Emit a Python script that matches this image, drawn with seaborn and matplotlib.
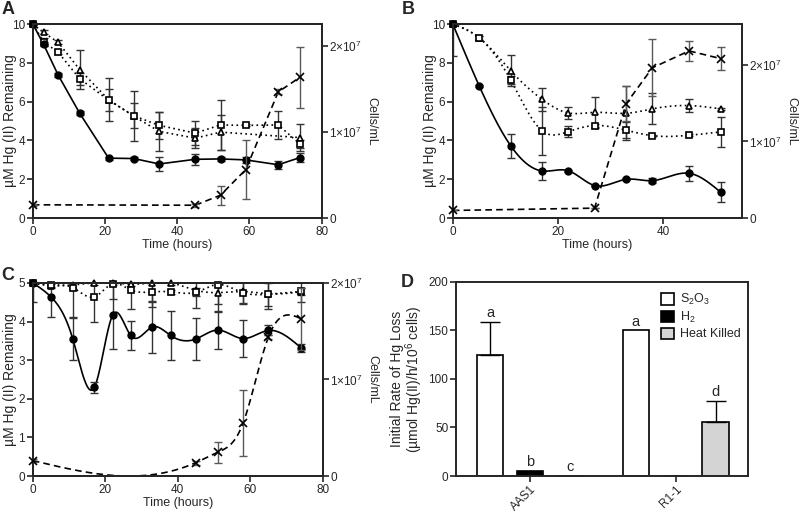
import numpy as np
import pandas as pd
import matplotlib
matplotlib.use('Agg')
import matplotlib.pyplot as plt
import seaborn as sns

# ---- Panel A: AAS1 on S2O3 ----
A_t = [0, 3, 7, 13, 21, 28, 35, 45, 52, 59, 68, 74]
A_circle = [10, 8.95, 7.38, 5.4, 3.09, 3.07, 2.79, 3.03, 3.05, 3.0, 2.75, 3.12]
A_circle_err = [0, 0.1, 0.1, 0.1, 0.08, 0.08, 0.35, 0.27, 0.1, 0.15, 0.2, 0.22]
A_square = [10, 9.08, 8.55, 7.18, 6.08, 5.27, 4.78, 4.38, 4.8, 4.78, 4.8, 3.82]
A_square_err = [0, 0.2, 0.1, 0.3, 0.57, 0.65, 0.7, 0.6, 1.3, 0.05, 0.7, 0.2]
A_tri_t = [0, 3, 7, 13, 21, 28, 35, 45, 52, 74]
A_tri = [10, 9.57, 9.06, 7.65, 6.1, 5.25, 4.47, 4.12, 4.43, 4.15]
A_tri_err = [0, 0.1, 0.1, 1.0, 1.1, 1.3, 1.0, 0.5, 0.9, 0.7]
A_cross_t = [0, 45, 52, 59, 68, 74]
A_cross = [1.55e6, 1.5e6, 2.67e6, 5.66e6, 1.47e7, 1.64e7]
A_cross_err = [1e5, 2e5, 1.1e6, 3.4e6, 3e5, 3.55e6]

# ---- Panel B ----
B_t = [0, 5, 11, 17, 22, 27, 33, 38, 45, 51]
B_circle = [10, 6.83, 3.74, 2.43, 2.44, 1.68, 2.0, 1.93, 2.31, 1.34]
B_circle_err = [1.65, 0.05, 0.62, 0.45, 0.05, 0.05, 0.05, 0.12, 0.4, 0.5]
B_tri = [10, 9.3, 7.6, 6.12, 5.42, 5.45, 5.4, 5.63, 5.8, 5.63]
B_tri_err = [0, 0.1, 0.8, 0.6, 0.3, 0.8, 1.4, 0.8, 0.35, 0.05]
B_square = [10, 9.3, 7.13, 4.5, 4.46, 4.77, 4.53, 4.25, 4.27, 4.44]
B_square_err = [0, 0.1, 0.2, 1.25, 0.3, 0.1, 0.4, 0.05, 0.05, 0.78]
B_cross_t = [0, 27, 33, 38, 45, 51]
B_cross = [1.0e6, 1.3e6, 1.49e7, 1.96e7, 2.18e7, 2.08e7]
B_cross_err = [0, 0, 2.3e6, 3.7e6, 1.3e6, 1.5e6]

# ---- Panel C ----
C_t = [0, 5, 11, 17, 22, 27, 33, 38, 45, 51, 58, 65, 74]
C_circle = [5.0, 4.64, 3.56, 2.3, 4.16, 3.64, 3.86, 3.64, 3.55, 3.78, 3.56, 3.77, 3.32]
C_circle_err = [0.48, 0.53, 0.55, 0.14, 0.87, 0.37, 0.68, 0.63, 0.55, 0.5, 0.47, 0.13, 0.1]
C_tri = [5.0, 4.93, 4.95, 5.0, 5.0, 4.97, 5.0, 5.0, 4.81, 4.75, 4.78, 4.72, 4.77]
C_tri_err = [0, 0.05, 0.1, 0.05, 0.05, 0.05, 0.5, 0.05, 0.46, 0.3, 0.3, 0.4, 0.25]
C_square = [5.0, 4.95, 4.88, 4.64, 4.98, 4.82, 4.77, 4.77, 4.76, 4.96, 4.75, 4.71, 4.78]
C_square_err = [0, 0.05, 0.78, 0.65, 0.4, 0.5, 0.4, 0.05, 0.1, 0.7, 0.3, 0.3, 0.1]
C_cross_t = [0, 45, 51, 58, 65, 74]
C_cross = [1.6e6, 1.39e6, 2.46e6, 5.47e6, 1.44e7, 1.63e7]
C_cross_err = [2e5, 2e5, 1.1e6, 3.4e6, 2e5, 3.2e6]

# ---- Panel D ----
strains = ['AAS1', 'R1-1']
treatments = ['S$_2$O$_3$', 'H$_2$', 'Heat Killed']
rate_AAS1 = [125, 5.5, 0]
rate_R11 = [150, 0, 56]
err_AAS1 = [34, 0, 0]
err_R11 = [0, 0, 21]
letters_AAS1 = ['a', 'b', 'c']
letters_R11 = ['a', '', 'd']
bar_colors = ['white', 'black', '#d4d4d4']

sns.set_style('ticks')
plt.rcParams['font.family'] = ['Liberation Sans', 'DejaVu Sans']
plt.rcParams['mathtext.fontset'] = 'custom'
plt.rcParams['mathtext.rm'] = 'Liberation Sans'
plt.rcParams['mathtext.it'] = 'Liberation Sans:italic'
plt.rcParams['axes.linewidth'] = 1.4

TICK_FS = 8.5
LABEL_FS = 9
VLABEL_FS = 10


def natural_spline(x, y, n=300):
    """Natural cubic spline through the points, for drawing smooth curves."""
    x = np.asarray(x, float)
    y = np.asarray(y, float)
    k = len(x)
    h = np.diff(x)
    A = np.zeros((k, k))
    b = np.zeros(k)
    A[0, 0] = A[-1, -1] = 1
    for i in range(1, k - 1):
        A[i, i - 1] = h[i - 1]
        A[i, i] = 2 * (h[i - 1] + h[i])
        A[i, i + 1] = h[i]
        b[i] = 3 * ((y[i + 1] - y[i]) / h[i] - (y[i] - y[i - 1]) / h[i - 1])
    c = np.linalg.solve(A, b)
    xs = np.linspace(x[0], x[-1], n)
    idx = np.clip(np.searchsorted(x, xs) - 1, 0, k - 2)
    dx = xs - x[idx]
    bb = (y[1:] - y[:-1]) / h - h * (2 * c[:-1] + c[1:]) / 3
    d = (c[1:] - c[:-1]) / (3 * h)
    ys = y[idx] + bb[idx] * dx + c[idx] * dx ** 2 + d[idx] * dx ** 3
    return xs, ys


DOT = (0, (1, 2))
DASH = (0, (4, 2.5))


def draw_series(ax, t, y, err, marker, face, ls, smooth, ecolor='0.2'):
    if smooth:
        xs, ys = natural_spline(t, y)
    else:
        xs, ys = t, y
    sns.lineplot(x=xs, y=ys, ax=ax, color='black', linestyle=ls, linewidth=1.2,
                 sort=False, estimator=None)
    # error bars are clipped to the axes, the markers are not
    ax.errorbar(t, y, yerr=err, fmt='none', ecolor=ecolor, elinewidth=1.0,
                capsize=3.2, capthick=1.0, zorder=3)
    ms = 5.5 if marker == 'x' else 4.8
    ax.plot(t, y, linestyle='none', marker=marker, ms=ms, mfc=face, mec='black',
            mew=1.2, clip_on=False, zorder=4)


def time_panel(ax, t_c, circ, circ_e, t_tr, tri, tri_e, t_sq, sq, sq_e,
               t_x, cross, cross_e, smooth_hg, smooth_x, xlim, xticks, ylim,
               yticks, y2lim):
    draw_series(ax, t_tr, tri, tri_e, '^', 'white', DOT, smooth_hg)
    draw_series(ax, t_sq, sq, sq_e, 's', 'white', DOT, smooth_hg)
    draw_series(ax, t_c, circ, circ_e, 'o', 'black', '-', smooth_hg)
    ax.set_xlim(xlim)
    ax.set_ylim(ylim)
    ax.set_xticks(xticks)
    ax.set_yticks(yticks)
    ax.set_xlabel('Time (hours)', fontsize=LABEL_FS, labelpad=1)
    ax.set_ylabel('µM Hg (II) Remaining', fontsize=VLABEL_FS)
    ax.yaxis.set_label_coords(-0.055, 0.5)
    ax.tick_params(labelsize=TICK_FS, length=4, width=1.2, pad=1.5)

    ax2 = ax.twinx()
    draw_series(ax2, t_x, cross, cross_e, 'x', 'black', DASH, smooth_x, ecolor='0.35')
    ax2.set_ylim(y2lim)
    ax2.set_yticks([0, 1e7, 2e7])
    ax2.set_yticklabels(['0', '1×10$^7$', '2×10$^7$'])
    ax2.set_ylabel('Cells/mL', fontsize=LABEL_FS, rotation=-90, labelpad=11)
    ax2.tick_params(labelsize=TICK_FS, length=4, width=1.2, pad=1.5)
    for s in ax2.spines.values():
        s.set_linewidth(1.4)
    return ax2


fig = plt.figure(figsize=(8, 5.12), dpi=100)
axA = fig.add_axes([0.041, 0.574, 0.361, 0.379])
axB = fig.add_axes([0.566, 0.574, 0.361, 0.379])
axC = fig.add_axes([0.041, 0.0703, 0.3625, 0.377])
axD = fig.add_axes([0.570, 0.0703, 0.365, 0.379])

time_panel(axA, A_t, A_circle, A_circle_err, A_tri_t, A_tri, A_tri_err,
           A_t, A_square, A_square_err, A_cross_t, A_cross, A_cross_err,
           False, False, (0, 80), [0, 20, 40, 60, 80], (0, 10),
           [0, 2, 4, 6, 8, 10], (0, 2.26e7))

time_panel(axB, B_t, B_circle, B_circle_err, B_t, B_tri, B_tri_err,
           B_t, B_square, B_square_err, B_cross_t, B_cross, B_cross_err,
           True, False, (0, 55), [0, 20, 40], (0, 10),
           [0, 2, 4, 6, 8, 10], (0, 2.53e7))

time_panel(axC, C_t, C_circle, C_circle_err, C_t, C_tri, C_tri_err,
           C_t, C_square, C_square_err, C_cross_t, C_cross, C_cross_err,
           True, True, (0, 80), [0, 20, 40, 60, 80], (0, 5),
           [0, 1, 2, 3, 4, 5], (0, 2e7))

# ---- bar panel ----
df = pd.DataFrame({
    'strain': np.repeat(strains, len(treatments)),
    'treatment': treatments * len(strains),
    'rate': rate_AAS1 + rate_R11,
})
sns.barplot(data=df, x='strain', y='rate', hue='treatment', hue_order=treatments,
            palette=bar_colors, edgecolor='black', linewidth=1.2, width=0.82,
            gap=0.33, errorbar=None, ax=axD, zorder=2)
slot = 0.82 / len(treatments)
for gi, (vals, errs, lets) in enumerate([(rate_AAS1, err_AAS1, letters_AAS1),
                                         (rate_R11, err_R11, letters_R11)]):
    for j, (v, e, l) in enumerate(zip(vals, errs, lets)):
        xpos = gi + (j - 1) * slot
        if e > 0:
            axD.errorbar([xpos], [v], yerr=[[0], [e]], fmt='none', ecolor='black',
                         elinewidth=1.0, capsize=7, capthick=1.0, zorder=3)
        if l:
            axD.text(xpos, v + e + 2, l, ha='center', va='bottom', fontsize=10.5)

axD.set_xlim(-0.507, 1.495)
axD.set_ylim(0, 200)
axD.set_yticks([0, 50, 100, 150, 200])
axD.set_xlabel('')
axD.set_ylabel('Initial Rate of Hg Loss\n(µmol Hg(II)/h/10$^6$ cells)',
               fontsize=VLABEL_FS, linespacing=1.0)
axD.yaxis.set_label_coords(-0.105, 0.5)
axD.tick_params(labelsize=TICK_FS, length=4, width=1.2, pad=1.5)
for lab in axD.get_xticklabels():
    lab.set_rotation(45)
    lab.set_ha('right')
    lab.set_rotation_mode('anchor')
handles, labels = axD.get_legend_handles_labels()
axD.legend(handles, labels, loc='upper right', bbox_to_anchor=(1.0, 0.985),
           frameon=False, fontsize=9, handlelength=1.0, handleheight=1.0,
           handletextpad=0.5, labelspacing=0.2, borderaxespad=0.2)

for lbl, x, y in [('A', 0.002, 0.998), ('B', 0.502, 0.998),
                  ('C', 0.002, 0.478), ('D', 0.501, 0.465)]:
    fig.text(x, y, lbl, fontsize=13, fontweight='bold', va='top', ha='left')

fig.savefig('out.png', dpi=100)
